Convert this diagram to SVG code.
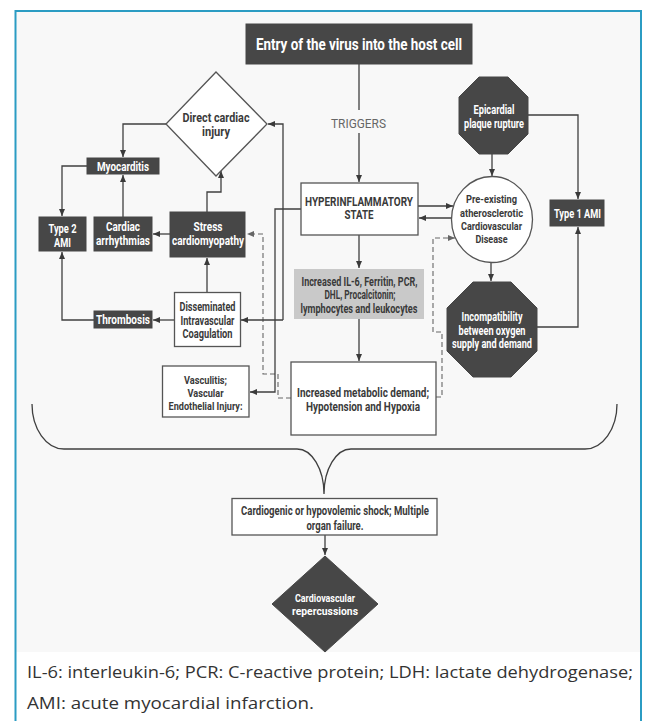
<svg xmlns="http://www.w3.org/2000/svg" width="645" height="721" viewBox="0 0 645 721">
<style>
.dk{fill:#474747;stroke:#474747;stroke-width:1}
.wb{fill:#ffffff;stroke:#555555;stroke-width:1.3}
.gb{fill:#c9c9c9;stroke:none}
.t{font-family:Roboto,"Liberation Sans",sans-serif;font-weight:bold;font-size:12.5px;text-anchor:middle;fill:#3a3a3a}
.s{font-size:11.5px}
.tw{fill:#ffffff}
.ln{fill:none;stroke:#3f3f3f;stroke-width:1.3}
.ds{fill:none;stroke:#666666;stroke-width:1.1;stroke-dasharray:5,3}
.fn{font-family:"Open Sans","Noto Sans",sans-serif;font-size:17px;fill:#333333}
</style>
<defs>
<marker id="ah" markerUnits="userSpaceOnUse" markerWidth="7" markerHeight="6" refX="7" refY="3" orient="auto">
<path d="M0,0 L7,3 L0,6 z" fill="#3a3a3a"/>
</marker>
<marker id="ahd" markerUnits="userSpaceOnUse" markerWidth="7" markerHeight="6" refX="7" refY="3" orient="auto">
<path d="M0,0 L7,3 L0,6 z" fill="#666666"/>
</marker>
</defs>
<rect x="0" y="0" width="645" height="721" fill="#ffffff"/>
<rect x="16" y="12" width="624" height="640" fill="#f8f8f8"/>
<path d="M15.5,721 V11 H641 V721" fill="none" stroke="#2b9cc3" stroke-width="2"/>

<g id="connectors">
<path class="ln" d="M359,64 V110"/>
<path class="ln" d="M359,133 V182" marker-end="url(#ah)"/>
<path class="ln" d="M418,206 H453" marker-end="url(#ah)"/>
<path class="ln" d="M452,218 H419" marker-end="url(#ah)"/>
<path class="ln" d="M492,154 V176" marker-end="url(#ah)"/>
<path class="ln" d="M528,115 H578 V199" marker-end="url(#ah)"/>
<path class="ln" d="M537,327 H578 V227" marker-end="url(#ah)"/>
<path class="ln" d="M491,263 V281" marker-end="url(#ah)"/>
<path class="ln" d="M359,235 V268" marker-end="url(#ah)"/>
<path class="ln" d="M359,319 V361" marker-end="url(#ah)"/>
<path class="ds" d="M436,397 H442 V332 H433 V238 H455" marker-end="url(#ahd)"/>
<path class="ds" d="M291,398 H278 V374 H263 V234 H247" marker-end="url(#ahd)"/>
<path class="ln" d="M301,209 H275 V392 H250" marker-end="url(#ah)"/>
<path class="ln" d="M283,320 V124 H268" marker-end="url(#ah)"/>
<path class="ln" d="M283,320 H241" marker-end="url(#ah)"/>
<path class="ln" d="M166,124 H123 V157" marker-end="url(#ah)"/>
<path class="ln" d="M87,166 H62 V216" marker-end="url(#ah)"/>
<path class="ln" d="M123,217 V175" marker-end="url(#ah)"/>
<path class="ln" d="M170,234 H153" marker-end="url(#ah)"/>
<path class="ln" d="M207,212 V192 H221 V171" marker-end="url(#ah)"/>
<path class="ln" d="M207,292 V258" marker-end="url(#ah)"/>
<path class="ln" d="M174,320 H153" marker-end="url(#ah)"/>
<path class="ln" d="M94,320 H62 V252" marker-end="url(#ah)"/>
<path class="ln" d="M32,404 A32,45 0 0 0 64,449 H297 A27,45 0 0 1 324,494 A27,45 0 0 1 351,449 H585 A32,45 0 0 0 617,404"/>
<path class="ln" d="M325,535 V555" marker-end="url(#ah)"/>
<text class="t" x="358.5" y="127.5" style="font-weight:normal;font-size:13px;fill:#666" textLength="55" lengthAdjust="spacingAndGlyphs">TRIGGERS</text>
</g>

<g id="entry">
<rect class="dk" x="246" y="24" width="226" height="40"/>
<text class="t tw" x="359" y="50" style="font-size:16px" textLength="206" lengthAdjust="spacingAndGlyphs">Entry of the virus into the host cell</text>
</g>

<g id="hyper">
<rect class="wb" x="301" y="183" width="117" height="52"/>
<text class="t" x="359" y="205.5" textLength="108" lengthAdjust="spacingAndGlyphs">HYPERINFLAMMATORY</text>
<text class="t" x="359" y="219" textLength="29" lengthAdjust="spacingAndGlyphs">STATE</text>
</g>

<g id="preexisting">
<ellipse class="wb" cx="492" cy="219.5" rx="40.5" ry="43"/>
<text class="t s" x="491.5" y="203" textLength="51" lengthAdjust="spacingAndGlyphs">Pre-existing</text>
<text class="t s" x="491.5" y="216.5" textLength="63" lengthAdjust="spacingAndGlyphs">atherosclerotic</text>
<text class="t s" x="491.5" y="229.5" textLength="61" lengthAdjust="spacingAndGlyphs">Cardiovascular</text>
<text class="t s" x="491.5" y="243" textLength="32" lengthAdjust="spacingAndGlyphs">Disease</text>
</g>

<g id="epicardial">
<polygon class="dk" points="479,77 508,77 528,97 528,134 508,154 479,154 459,134 459,97"/>
<text class="t tw" x="494" y="114" textLength="41" lengthAdjust="spacingAndGlyphs">Epicardial</text>
<text class="t tw" x="494" y="127.5" textLength="60" lengthAdjust="spacingAndGlyphs">plaque rupture</text>
</g>

<g id="type1">
<rect class="dk" x="550" y="200" width="54" height="26"/>
<text class="t tw" x="577.5" y="218" textLength="47" lengthAdjust="spacingAndGlyphs">Type 1 AMI</text>
</g>

<g id="incompat">
<polygon class="dk" points="473,282 511,282 537,308 537,351 511,377 473,377 447,351 447,308"/>
<text class="t tw" x="492" y="321" textLength="61" lengthAdjust="spacingAndGlyphs">Incompatibility</text>
<text class="t tw" x="492" y="334.5" textLength="67" lengthAdjust="spacingAndGlyphs">between oxygen</text>
<text class="t tw" x="492" y="348" textLength="80" lengthAdjust="spacingAndGlyphs">supply and demand</text>
</g>

<g id="markers">
<rect class="gb" x="294" y="269" width="130" height="50"/>
<text class="t" x="359.5" y="285.5" style="font-size:12px" textLength="116" lengthAdjust="spacingAndGlyphs">Increased IL-6, Ferritin, PCR,</text>
<text class="t" x="360" y="299" style="font-size:12px" textLength="71" lengthAdjust="spacingAndGlyphs">DHL, Procalcitonin;</text>
<text class="t" x="359" y="312.5" style="font-size:12px" textLength="117" lengthAdjust="spacingAndGlyphs">lymphocytes and leukocytes</text>
</g>

<g id="metabolic">
<rect class="wb" x="291" y="362" width="145" height="73"/>
<text class="t" x="363" y="396.5" textLength="132" lengthAdjust="spacingAndGlyphs">Increased metabolic demand;</text>
<text class="t" x="363" y="410.5" textLength="114" lengthAdjust="spacingAndGlyphs">Hypotension and Hypoxia</text>
</g>

<g id="direct">
<polygon class="wb" points="216,72 267,124 216,176 166,124"/>
<text class="t" x="216" y="121.5" style="font-size:13px" textLength="67" lengthAdjust="spacingAndGlyphs">Direct cardiac</text>
<text class="t" x="216" y="135.5" style="font-size:13px" textLength="28" lengthAdjust="spacingAndGlyphs">injury</text>
</g>

<g id="myocarditis">
<rect class="dk" x="87" y="158" width="72" height="16"/>
<text class="t tw" x="123" y="170.5" textLength="52" lengthAdjust="spacingAndGlyphs">Myocarditis</text>
</g>

<g id="type2">
<rect class="dk" x="39" y="217" width="47" height="34"/>
<text class="t tw" x="62.5" y="233" textLength="28" lengthAdjust="spacingAndGlyphs">Type 2</text>
<text class="t tw" x="62.5" y="246.5" textLength="17" lengthAdjust="spacingAndGlyphs">AMI</text>
</g>

<g id="arrhythmias">
<rect class="dk" x="94" y="217" width="58" height="34"/>
<text class="t tw" x="123" y="230.5" textLength="34" lengthAdjust="spacingAndGlyphs">Cardiac</text>
<text class="t tw" x="123" y="244.5" textLength="54" lengthAdjust="spacingAndGlyphs">arrhythmias</text>
</g>

<g id="stress">
<rect class="dk" x="170" y="212" width="75" height="45"/>
<text class="t tw" x="208" y="230.5" style="font-size:13px" textLength="29" lengthAdjust="spacingAndGlyphs">Stress</text>
<text class="t tw" x="208" y="245" style="font-size:13px" textLength="72" lengthAdjust="spacingAndGlyphs">cardiomyopathy</text>
</g>

<g id="dic">
<rect class="wb" x="174.5" y="292.5" width="66" height="54"/>
<text class="t" x="207.5" y="311" textLength="56" lengthAdjust="spacingAndGlyphs">Disseminated</text>
<text class="t" x="207.5" y="324.5" textLength="54" lengthAdjust="spacingAndGlyphs">Intravascular</text>
<text class="t" x="207.5" y="338" textLength="50" lengthAdjust="spacingAndGlyphs">Coagulation</text>
</g>

<g id="thrombosis">
<rect class="dk" x="94" y="311" width="58" height="17"/>
<text class="t tw" x="123" y="323.5" textLength="54" lengthAdjust="spacingAndGlyphs">Thrombosis</text>
</g>

<g id="vasculitis">
<rect class="wb" x="162.5" y="366" width="86.5" height="51"/>
<text class="t s" x="205.5" y="384" textLength="43" lengthAdjust="spacingAndGlyphs">Vasculitis;</text>
<text class="t s" x="205.5" y="397" textLength="36" lengthAdjust="spacingAndGlyphs">Vascular</text>
<text class="t s" x="205.5" y="410" textLength="74" lengthAdjust="spacingAndGlyphs">Endothelial Injury:</text>
</g>

<g id="shock">
<rect class="wb" x="232" y="498.5" width="205" height="36.5"/>
<text class="t" x="335" y="515" style="font-size:12px" textLength="188" lengthAdjust="spacingAndGlyphs">Cardiogenic or hypovolemic shock; Multiple</text>
<text class="t" x="335" y="530" style="font-size:12px" textLength="57" lengthAdjust="spacingAndGlyphs">organ failure.</text>
</g>

<g id="repercussions">
<polygon class="dk" points="325,556 378,604 325,652 272,604"/>
<text class="t tw" x="325" y="602" style="font-size:10px" textLength="60" lengthAdjust="spacingAndGlyphs">Cardiovascular</text>
<text class="t tw" x="325" y="615" style="font-size:10px" textLength="66" lengthAdjust="spacingAndGlyphs">repercussions</text>
</g>

<g id="footnote">
<text class="fn" x="27" y="678" textLength="606" lengthAdjust="spacingAndGlyphs">IL-6: interleukin-6; PCR: C-reactive protein; LDH: lactate dehydrogenase;</text>
<text class="fn" x="27" y="709" textLength="287" lengthAdjust="spacingAndGlyphs">AMI: acute myocardial infarction.</text>
</g>
</svg>
